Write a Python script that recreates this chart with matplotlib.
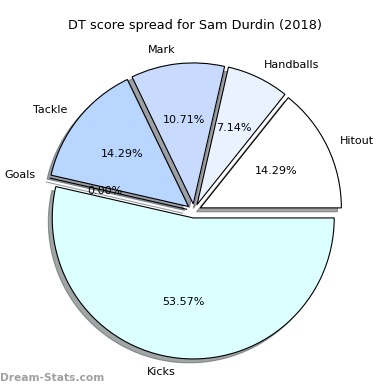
import matplotlib
matplotlib.use("Agg")
import matplotlib.pyplot as plt

# DT score spread data (counts)
labels = ["Hitout", "Handballs", "Mark", "Tackle", "Goals", "Kicks"]
values = [4, 2, 3, 4, 0, 15]
colors = ["#ffffff", "#eaf1ff", "#c8dbff", "#b8d6ff", "#a8ccff", "#dcffff"]
explode = [0.05] * len(values)

fig = plt.figure(figsize=(3.9, 3.9), dpi=100)
ax = fig.add_axes([0, 0, 1, 1])

ax.pie(values, labels=labels, colors=colors, explode=explode,
       autopct="%.2f%%", shadow=True, startangle=0,
       wedgeprops={"edgecolor": "black", "linewidth": 0.8},
       textprops={"fontsize": 8})

ax.set_aspect("equal")
ax.set_xlim(-1.376, 1.390)
ax.set_ylim(-1.270, 1.496)
ax.axis("off")

fig.text(0.5, 1 - 25 / 390, "DT score spread for Sam Durdin (2018)",
         ha="center", va="center", fontsize=9.3)
fig.text(0.0, 1 - 378 / 390, "Dream-Stats.com", ha="left", va="center",
         fontsize=7.7, fontweight="bold", color="#a0a0a0")

fig.savefig("out.png", dpi=100)
